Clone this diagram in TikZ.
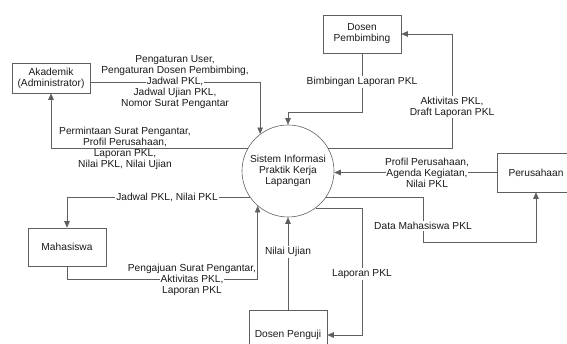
\documentclass[tikz,border=0pt]{standalone}
\usepackage{fontspec}
\setmainfont{Liberation Sans}
\usepackage{xcolor}
\usetikzlibrary{arrows.meta}
\definecolor{dfdline}{RGB}{95, 95, 95}
\definecolor{dfdtext}{RGB}{25, 25, 25}
\newcommand{\onflow}[1]{{\setlength{\fboxsep}{0.5pt}\colorbox{white}{#1}}}

\begin{document}
\begin{tikzpicture}[x=1pt, y=-1pt,
	every node/.style={font=\fontsize{10.2}{11}\selectfont, text=dfdtext},
	entity/.style={draw=dfdline, line width=0.6pt, minimum width=78pt, align=center, inner sep=2pt},
	process/.style={draw=dfdline, line width=0.6pt, circle, minimum size=92pt, align=center, inner sep=0pt},
	flow/.style={draw=dfdline, line width=0.6pt, -{Triangle[length=6.5pt,width=5.5pt]}},
	lbl/.style={align=center, inner sep=1pt},
	lblcut/.style={lbl, fill=white}]
					\useasboundingbox (0,0) rectangle (567,344);
					\node[process] (sistem) at (288,171) {Sistem Informasi\\Praktik Kerja\\Lapangan};
					\node[entity, minimum height=30pt] (akademik) at (51,78) {Akademik\\(Administrator)};
					\node[entity, minimum height=38pt] (dpembimbing) at (362,34) {Dosen\\Pembimbing};
					\node[entity, minimum height=39pt] (perusahaan) at (536,172.5) {Perusahaan};
					\node[entity, minimum height=38pt] (mahasiswa) at (67,247) {Mahasiswa};
					\node[entity, minimum height=50pt] (dpenguji) at (288,335) {Dosen Penguji};
					\coordinate (dmbend) at (423,242);
					
					% aliran data
					\draw[flow] ([yshift=-4pt]akademik.east) -| (sistem.127);
					\draw[flow] (sistem.150) -| (akademik.south);
					\draw[flow] (dpembimbing.south) -- ++(0,59) -| (sistem.north);
					\draw[flow] (sistem.30) -| ([xshift=51pt]dpembimbing.east) -- (dpembimbing.east);
					\draw[flow] (perusahaan.west) -- (perusahaan.west -| sistem.east);
					\draw[flow] (sistem.214) -| (mahasiswa.north);
					\draw[flow] (mahasiswa.south) -- ++(0,13) -| (sistem.229);
					\draw[flow] (dpenguji.north) -- (sistem.south);
					\draw[flow] (sistem.-53) -| ([xshift=35pt]dpenguji.east) -- (dpenguji.east);
					\draw[flow] (sistem.-34) -| (dmbend) -| (perusahaan.south);
					
					\node[lbl] (l-akin) at (175,82) {Pengaturan User,\\Pengaturan Dosen Pembimbing,\\\onflow{Jadwal PKL,}\\Jadwal Ujian PKL,\\Nomor Surat Pengantar};
					\node[lbl] (l-akout) at (125,148) {Permintaan Surat Pengantar,\\Profil Perusahaan,\\Laporan PKL,\\Nilai PKL, Nilai Ujian};
					\node[lblcut] (l-bimb) at (362,82) {Bimbingan Laporan PKL};
					\node[lblcut] (l-aktv) at (452,107) {Aktivitas PKL,\\Draft Laporan PKL};
					\node[lbl] (l-prs) at (427,173) {Profil Perusahaan,\\\onflow{Agenda Kegiatan,}\\Nilai PKL};
					\node[lblcut] (l-mhsout) at (167,197) {Jadwal PKL, Nilai PKL};
					\node[lbl] (l-mhsin) at (192,280) {Pengajuan Surat Pengantar,\\\onflow{Aktivitas PKL,}\\Laporan PKL};
					\node[lblcut] (l-uji) at (288,252) {Nilai Ujian};
					\node[lblcut] (l-lap) at (362,274) {Laporan PKL};
					\node[lblcut] (l-dm) at (423,226) {Data Mahasiswa PKL};
				\end{tikzpicture}
\end{document}
